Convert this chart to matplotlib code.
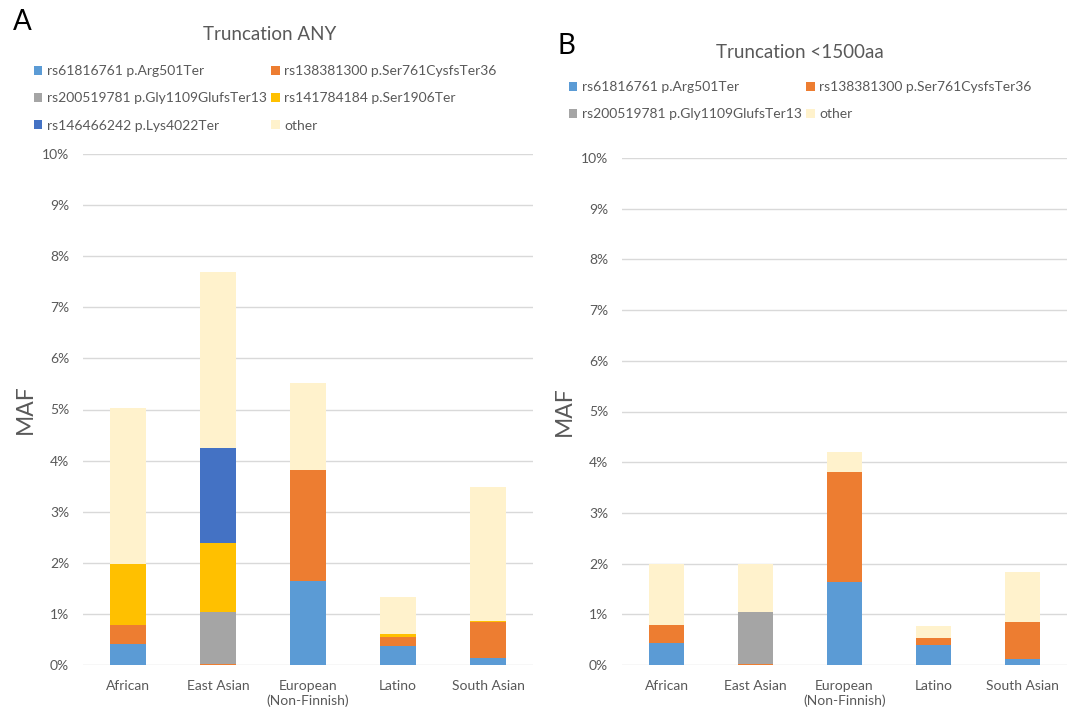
import matplotlib
matplotlib.use("Agg")
import matplotlib.pyplot as plt
from matplotlib.patches import Patch
from matplotlib.ticker import FuncFormatter
import numpy as np

plt.rcParams['font.family'] = ['Lato', 'DejaVu Sans']

categories = ["African", "East Asian", "European\n(Non-Finnish)", "Latino", "South Asian"]

# Panel A: Truncation ANY (MAF in %)
a_labels = ["rs61816761 p.Arg501Ter", "rs138381300 p.Ser761CysfsTer36",
            "rs200519781 p.Gly1109GlufsTer13", "rs141784184 p.Ser1906Ter",
            "rs146466242 p.Lys4022Ter", "other"]
a_arg501 = [0.42, 0.00, 1.64, 0.38, 0.13]
a_ser761 = [0.37, 0.02, 2.18, 0.17, 0.72]
a_gly1109 = [0.00, 1.02, 0.00, 0.00, 0.00]
a_ser1906 = [1.18, 1.34, 0.00, 0.06, 0.02]
a_lys4022 = [0.00, 1.87, 0.00, 0.00, 0.00]
a_other = [3.06, 3.44, 1.69, 0.72, 2.61]

# Panel B: Truncation <1500aa (MAF in %)
b_labels = ["rs61816761 p.Arg501Ter", "rs138381300 p.Ser761CysfsTer36",
            "rs200519781 p.Gly1109GlufsTer13", "other"]
b_arg501 = [0.43, 0.00, 1.64, 0.39, 0.12]
b_ser761 = [0.36, 0.02, 2.17, 0.15, 0.73]
b_gly1109 = [0.00, 1.02, 0.00, 0.00, 0.00]
b_other = [1.21, 0.95, 0.40, 0.22, 0.98]

colors = {"blue": "#5B9BD5", "orange": "#ED7D31", "gray": "#A5A5A5",
          "yellow": "#FFC000", "dblue": "#4472C4", "other": "#FFF2CC"}
text_color = "#595959"

fig = plt.figure(figsize=(10.72, 7.10), dpi=100)

def draw(ax, series, cols):
    x = np.arange(len(categories))
    bottom = np.zeros(len(categories))
    for vals, c in zip(series, cols):
        v = np.array(vals, dtype=float)
        ax.bar(x, v, bottom=bottom, width=0.4, color=c, zorder=3, linewidth=0)
        bottom += v
    ax.set_ylim(0, 10)
    ax.set_xlim(-0.5, len(categories) - 0.5)
    ax.set_yticks(np.arange(0, 11, 1))
    ax.yaxis.set_major_formatter(FuncFormatter(lambda v, p: f"{int(round(v))}%"))
    ax.set_xticks(x)
    ax.set_xticklabels(categories)
    for s in ax.spines.values():
        s.set_visible(False)
    ax.grid(axis='y', color='#D9D9D9', linewidth=1.0, zorder=0)
    ax.tick_params(axis='both', length=0, labelsize=10, colors=text_color)
    ax.tick_params(axis='y', pad=10)
    ax.tick_params(axis='x', pad=11)
    ax.set_ylabel("MAF", fontsize=16.5, color=text_color, labelpad=4)

axA = fig.add_axes([83/1072, 45/710, 450/1072, 511/710])
draw(axA, [a_arg501, a_ser761, a_gly1109, a_ser1906, a_lys4022, a_other],
     [colors["blue"], colors["orange"], colors["gray"], colors["yellow"], colors["dblue"], colors["other"]])

axB = fig.add_axes([622/1072, 45/710, 445/1072, 507/710])
draw(axB, [b_arg501, b_ser761, b_gly1109, b_other],
     [colors["blue"], colors["orange"], colors["gray"], colors["other"]])

# titles and panel letters
fig.text(270/1072, 1 - 34/710, "Truncation ANY", ha='center', va='center', fontsize=13.5, color=text_color)
fig.text(800/1072, 1 - 52/710, "Truncation <1500aa", ha='center', va='center', fontsize=13.5, color=text_color)
fig.text(22/1072, 1 - 22/710, "A", ha='center', va='center', fontsize=20, color='black')
fig.text(566/1072, 1 - 46/710, "B", ha='center', va='center', fontsize=20, color='black')

# legends
a_cols = [colors["blue"], colors["orange"], colors["gray"], colors["yellow"], colors["dblue"], colors["other"]]
a_handles = [Patch(facecolor=c, edgecolor='none') for c in a_cols]
order_a = [0, 2, 4, 1, 3, 5]
legA = fig.legend([a_handles[i] for i in order_a], [a_labels[i] for i in order_a],
                  loc='upper left', bbox_to_anchor=(34/1072, 1 - 65/710), ncol=2,
                  frameon=False, fontsize=10, handlelength=0.6, handleheight=0.6,
                  handletextpad=0.35, columnspacing=0.3, labelspacing=1.1,
                  borderaxespad=0, borderpad=0)
for t in legA.get_texts():
    t.set_color(text_color)

b_cols = [colors["blue"], colors["orange"], colors["gray"], colors["other"]]
b_handles = [Patch(facecolor=c, edgecolor='none') for c in b_cols]
order_b = [0, 2, 1, 3]
legB = fig.legend([b_handles[i] for i in order_b], [b_labels[i] for i in order_b],
                  loc='upper left', bbox_to_anchor=(569/1072, 1 - 81/710), ncol=2,
                  frameon=False, fontsize=10, handlelength=0.6, handleheight=0.6,
                  handletextpad=0.35, columnspacing=0.3, labelspacing=1.1,
                  borderaxespad=0, borderpad=0)
for t in legB.get_texts():
    t.set_color(text_color)

fig.savefig("out.png", dpi=100, facecolor='white')
